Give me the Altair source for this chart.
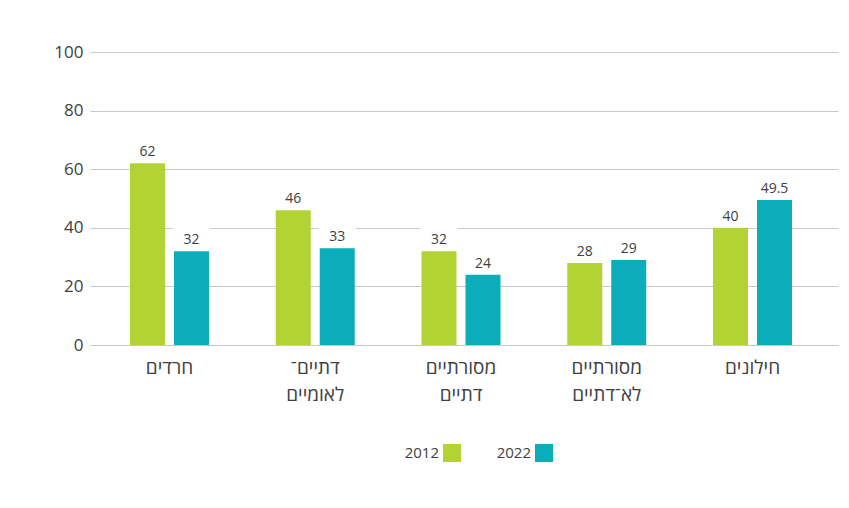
import altair as alt
import pandas as pd

# ---- data ----
categories = ["חרדים", "דתיים־|לאומיים", "מסורתיים|דתיים", "מסורתיים|לא־דתיים", "חילונים"]
years = ["2012", "2022"]
values_2012 = [62, 46, 32, 28, 40]
values_2022 = [32, 33, 24, 29, 49.5]
colors = ["#b3d334", "#0badba"]
y_ticks = [0, 20, 40, 60, 80, 100]

rows = []
for c, a, b in zip(categories, values_2012, values_2022):
    rows.append({"group": c, "year": years[0], "value": a, "label": f"{a:g}"})
    rows.append({"group": c, "year": years[1], "value": b, "label": f"{b:g}"})
df = pd.DataFrame(rows)

FONT = "Open Sans"
TEXT = "#404040"
GRID = "#c8c8cc"

x = alt.X(
    "group:N", sort=categories, title=None,
    scale=alt.Scale(paddingInner=0.458, paddingOuter=0.295, align=0.465),
    axis=alt.Axis(labelAngle=0, labelExpr="split(datum.label, '|')",
                  labelFontSize=19, labelColor=TEXT, labelPadding=13,
                  labelLineHeight=27, ticks=False, domain=True,
                  domainColor=GRID, labelOverlap=False, labelFont=FONT),
)
xo = alt.XOffset("year:N", sort=years,
                 scale=alt.Scale(paddingInner=0.2045, paddingOuter=0))
y = alt.Y(
    "value:Q", title=None,
    scale=alt.Scale(domain=[0, 100], nice=False),
    axis=alt.Axis(values=y_ticks, ticks=False, domain=False, grid=True,
                  gridColor=GRID, labelFontSize=17, labelColor=TEXT,
                  labelPadding=7, labelFont=FONT),
)
color = alt.Color(
    "year:N", sort=years,
    scale=alt.Scale(domain=years, range=colors),
    legend=alt.Legend(title=None, orient="none", legendX=353, legendY=392,
                      direction="horizontal", symbolType="square",
                      symbolSize=324, symbolStrokeWidth=0, labelAlign="right",
                      labelOffset={"expr": "-22"}, columnPadding=35,
                      labelFontSize=15, labelColor=TEXT, labelFont=FONT,
                      padding=0),
)

base = alt.Chart(df).encode(x=x, xOffset=xo, y=y)
bars = base.mark_bar().encode(color=color)
boxes = base.mark_point(
    shape="M-1,-0.6216H1V0.6216H-1Z", size=1369, filled=True,
    color="white", opacity=1, strokeWidth=0, yOffset=-12.5,
)
texts = base.mark_text(
    dy=-7, baseline="alphabetic", fontSize=14, color=TEXT, font=FONT,
).encode(text="label:N")

chart = (
    alt.layer(bars, boxes, texts)
    .properties(width=748, height=293,
                padding={"left": 82, "top": 44, "right": 3, "bottom": 150},
                autosize=alt.AutoSizeParams(type="none"))
    .configure(font=FONT)
    .configure_view(strokeWidth=0, stroke="transparent")
)

chart.save("out.html", embed_options={"renderer": "svg", "actions": False})
